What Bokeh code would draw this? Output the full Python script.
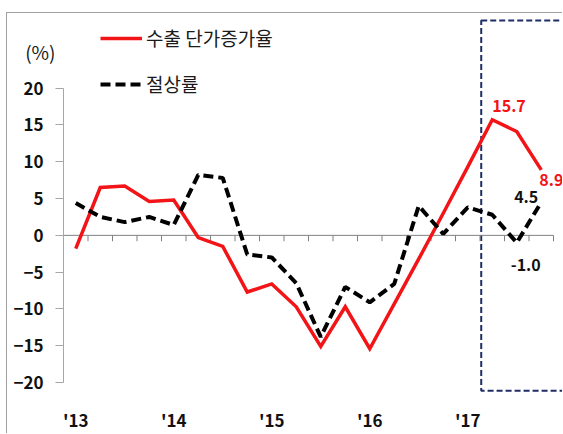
from bokeh.plotting import figure
from bokeh.models import Range1d, FixedTicker, Label, Legend, LegendItem, LinearAxis
from bokeh.embed import file_html
from bokeh.resources import INLINE

quarters = [f"{y}Q{q}" for y in range(2013, 2018) for q in range(1, 5)]
year_labels = ["'13", "'14", "'15", "'16", "'17"]
price_growth = [-1.8, 6.5, 6.7, 4.6, 4.8, -0.3, -1.5, -7.7, -6.6, -9.7,
                -15.1, -9.7, -15.4, -9.3, -3.2, 3.0, 9.3, 15.7, 14.1, 8.9]
appreciation = [4.4, 2.5, 1.8, 2.5, 1.4, 8.2, 7.8, -2.6, -3.0, -6.5,
                -13.8, -7.0, -9.1, -6.6, 4.0, 0.2, 3.8, 2.8, -1.0, 4.5]
y_ticks = [-20, -15, -10, -5, 0, 5, 10, 15, 20]
unit_text = "(%)"
forecast_start = 16.55  # boundary of the highlighted (recent) period

FONT = "Noto Sans CJK KR"
RED = "#F21416"
NAVY = "#1F2D66"

n = len(quarters)
xs = list(range(n))

p = figure(width=556, height=421, output_backend="svg", toolbar_location=None,
           x_range=Range1d(-0.5, n - 0.5 + 0.408), y_range=Range1d(-22.162, 30.135),
           min_border_left=56, min_border_right=0, min_border_top=0, min_border_bottom=34)
p.styles = {"margin-left": "6px", "margin-top": "12px",
            "border-left": "1px solid #a0a0a0", "border-top": "1px solid #a0a0a0"}
p.grid.visible = False
p.outline_line_color = None
p.background_fill_color = "white"
p.border_fill_color = "white"

# y axis
p.yaxis.ticker = FixedTicker(ticks=y_ticks)
p.yaxis.bounds = (y_ticks[0], y_ticks[-1])
p.yaxis.axis_line_color = "#a6a6a6"
p.yaxis.major_tick_line_color = "#a6a6a6"
p.yaxis.major_tick_out = 8
p.yaxis.major_tick_in = 0
p.yaxis.minor_tick_line_color = None
p.yaxis.major_label_standoff = 12
p.yaxis.major_label_text_font = FONT
p.yaxis.major_label_text_font_style = "bold"
p.yaxis.major_label_text_font_size = "17px"
p.yaxis.major_label_text_color = "#111111"

# unit "(%)" shown as a label-only outer axis at the top of the value axis
unit_axis = LinearAxis(ticker=FixedTicker(ticks=[25]), major_label_overrides={25: unit_text},
                       axis_line_color=None, major_tick_line_color=None, minor_tick_line_color=None,
                       major_tick_out=0, major_tick_in=0, major_label_standoff=-45,
                       major_label_text_font=FONT, major_label_text_font_size="19px",
                       major_label_text_color="#1a1a1a")
p.add_layout(unit_axis, "left")

# x axis (labels only)
year_idx = [i for i, q in enumerate(quarters) if q.endswith("Q1")]
p.xaxis.ticker = FixedTicker(ticks=year_idx)
p.xaxis.major_label_overrides = {i: lab for i, lab in zip(year_idx, year_labels)}
p.xaxis.axis_line_color = None
p.xaxis.major_tick_line_color = None
p.xaxis.minor_tick_line_color = None
p.xaxis.major_tick_out = 0
p.xaxis.major_label_standoff = 8
p.xaxis.major_label_text_font = FONT
p.xaxis.major_label_text_font_style = "bold"
p.xaxis.major_label_text_font_size = "17px"
p.xaxis.major_label_text_color = "#111111"

# highlighted recent period box
p.quad(left=[forecast_start], right=[n + 1.0], top=[29.2], bottom=[-21.1],
       fill_color=None, line_color=NAVY, line_width=2, line_dash="6 3")

# zero line with category tick marks
p.line(x=[-0.5, n - 0.5], y=[0, 0], line_color="#808080", line_width=1)
bounds = [i + 0.5 for i in range(n)]
p.segment(x0=bounds, y0=[0] * n, x1=bounds, y1=[-0.8] * n, line_color="#808080", line_width=1)

r1 = p.line(xs, price_growth, line_color=RED, line_width=3.5, line_join="miter")
r2 = p.line(xs, appreciation, line_color="black", line_width=4, line_dash="10 5")

legend = Legend(items=[LegendItem(label="수출 단가증가율", renderers=[r1]),
                       LegendItem(label="절상률", renderers=[r2])],
                location=(37, 301), glyph_width=42, glyph_height=20, label_height=20,
                label_standoff=4, spacing=19, padding=0, margin=0,
                border_line_color=None, background_fill_alpha=0,
                label_text_font=FONT, label_text_font_size="19px", label_text_color="#1a1a1a")
p.add_layout(legend)

ipk = price_growth.index(max(price_growth))
lab_style = dict(text_font=FONT, text_font_size="16px", text_font_style="bold")
p.add_layout(Label(x=ipk, y=price_growth[ipk], text=f"{price_growth[ipk]:.1f}", x_offset=0, y_offset=8,
                   text_align="left", text_baseline="bottom", text_color=RED, **lab_style))
p.add_layout(Label(x=n - 1, y=price_growth[-1], text=f"{price_growth[-1]:.1f}", x_offset=-2, y_offset=-4,
                   text_align="left", text_baseline="top", text_color=RED, **lab_style))
p.add_layout(Label(x=n - 1, y=appreciation[-1], text=f"{appreciation[-1]:.1f}", x_offset=-3, y_offset=5,
                   text_align="right", text_baseline="middle", text_color="#111111", **lab_style))
p.add_layout(Label(x=n - 2, y=appreciation[-2], text=f"{appreciation[-2]:.1f}", x_offset=9, y_offset=-22,
                   text_align="center", text_baseline="middle", text_color="#111111", **lab_style))

open("out.html", "w").write(file_html(p, INLINE))
